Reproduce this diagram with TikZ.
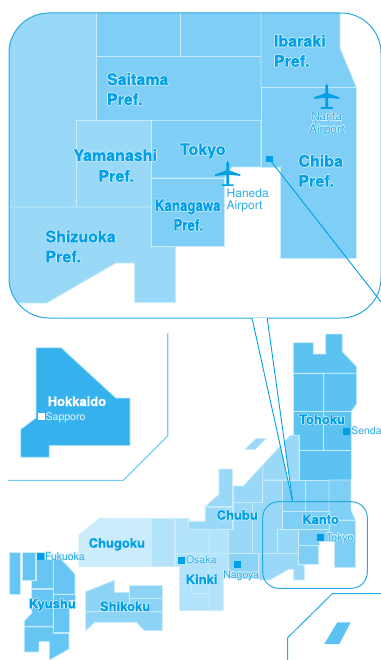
\documentclass[tikz,border=0pt]{standalone}
\usepackage{fontspec}
\usepackage{graphicx}
\usepackage{contour}
\setmainfont[BoldFeatures={FakeBold=0.6}]{TeX Gyre Heros}
\contourlength{0.5pt}
\contournumber{12}
\definecolor{cKanto}{HTML}{7FCEF5}
\definecolor{cChubu}{HTML}{99D8F7}
\definecolor{cTohoku}{HTML}{5BC2F2}
\definecolor{cKyushu}{HTML}{66C5F3}
\definecolor{cShikoku}{HTML}{8DD3F6}
\definecolor{cKinki}{HTML}{B3E3FA}
\definecolor{cChugoku}{HTML}{CCECFC}
\definecolor{cHokkaido}{HTML}{35B2EE}
\definecolor{cEdge}{HTML}{C8ECFB}
\definecolor{cHalo}{HTML}{D6F1FD}
\definecolor{cFrame}{HTML}{29ABE2}
\definecolor{cLine}{HTML}{6DCFF6}
\definecolor{cText}{HTML}{009FE8}
\definecolor{cSmall}{HTML}{29ABE2}
\definecolor{cMark}{HTML}{00A0E9}
\newcommand{\bl}[1]{\contour{cHalo}{#1}}
\tikzset{
  x=1pt,y=-1pt,
  cell/.style={fill=#1,draw=cEdge,line width=0.8pt,line join=miter},
  big/.style={anchor=base west,inner sep=0,outer sep=0,text=cText,font=\bfseries\fontsize{16}{16}\selectfont},
  mid/.style={anchor=base west,inner sep=0,outer sep=0,text=cText,font=\bfseries\fontsize{13}{13}\selectfont},
  small/.style={anchor=base west,inner sep=0,outer sep=0,text=cSmall,font=\fontsize{10.5}{10.5}\selectfont},
  air/.style={anchor=base west,inner sep=0,outer sep=0,text=cSmall,font=\fontsize{12}{12}\selectfont},
  frameline/.style={draw=cFrame,line width=1pt},
  bluelink/.style={draw=cMark,line width=0.9pt},
  boxline/.style={draw=cLine,line width=1.1pt},
  marker/.style={fill=cMark},
  plane/.pic={\fill[cMark] (0,-12.7) .. controls (0.8,-12) and (1.3,-11) .. (1.3,-10) -- (1.3,-3) -- (12.7,1.2) -- (12.7,2.6) -- (1.3,1.5) -- (1.3,11) -- (5.8,11) -- (5.8,12.7) -- (-5.8,12.7) -- (-5.8,11) -- (-1.3,11) -- (-1.3,1.5) -- (-12.7,2.6) -- (-12.7,1.2) -- (-1.3,-3) -- (-1.3,-10) .. controls (-1.3,-11) and (-0.8,-12) .. (0,-12.7) -- cycle;}
}
\begin{document}
\begin{tikzpicture}
\useasboundingbox (0,0) rectangle (380,660);
% --- inset
\begin{scope}
\clip[rounded corners=40pt] (9,13) rectangle (381,318);
\path[cell=cChubu] (0,0) -- (96,0) -- (96,120.3) -- (76.5,120.3) -- (76.5,207) -- (0,207) -- cycle;
\path[cell=cChubu] (76.5,120.3) rectangle (151.5,207);
\path[cell=cChubu] (0,207) -- (151.5,207) -- (151.5,246) -- (175.5,246) -- (175.5,302.7) -- (134.7,302.7) -- (134.7,263) -- (116,263) -- (46.7,303) -- (0,303) -- cycle;
\path[cell=cKanto] (96,0) rectangle (180,56);
\path[cell=cKanto] (180,0) rectangle (261,56);
\path[cell=cKanto] (96,56) rectangle (261,120.3);
\path[cell=cKanto] (151.5,120.3) -- (261,120.3) -- (261,167) -- (232,167) -- (224.5,178) -- (151.5,178) -- cycle;
\path[cell=cKanto] (151.5,178) rectangle (224.5,246);
\path[cell=cKanto] (261,0) -- (340,0) -- (340,48) -- (356.5,87.7) -- (261,87.7) -- cycle;
\path[cell=cKanto] (261,87.7) -- (356.5,87.7) -- (356.5,258) -- (280,258) -- (280,167) -- (261,167) -- cycle;
\end{scope}
\draw[frameline,rounded corners=40pt] (9,13) rectangle (381,318);
\node[big] (saitama) at (107,85) {\bl{Saitama}};
\node[big] (saitamap) at (107,105) {\bl{Pref.}};
\node[big] (yamanashi) at (73.5,161) {\bl{Yamanashi}};
\node[big] (yamanaship) at (98.5,181.7) {\bl{Pref.}};
\node[big] (tokyoin) at (180,155) {\bl{Tokyo}};
\node[big] (ibaraki) at (274,46.7) {\bl{Ibaraki}};
\node[big] (ibarakip) at (274,66.7) {\bl{Pref.}};
\node[big] (chiba) at (298.5,166.7) {\bl{Chiba}};
\node[big] (chibap) at (298.5,186.7) {\bl{Pref.}};
\node[big] (kanagawa) at (155,211) {\scalebox{.83}[1]{\bl{Kanagawa}}};
\node[big] (kanagawap) at (173.5,230.7) {\scalebox{.83}[1]{\bl{Pref.}}};
\node[big] (shizuoka) at (45.5,242.3) {\bl{Shizuoka}};
\node[big] (shizuokap) at (45.5,262.3) {\bl{Pref.}};
\pic (naritaplane) at (326.7,96.2) {plane};
\pic (hanedaplane) at (227.7,173.3) {plane};
\node[air] (narita) at (311.5,120.7) {\scalebox{.95}[1]{\bl{Narita}}};
\node[air] (naritaa) at (309,133.3) {\bl{Airport}};
\node[air] (haneda) at (226.7,197.7) {Haneda};
\node[air] (hanedaa) at (226.7,209.7) {Airport};
\fill[marker] (266,155.7) rectangle (272.7,162.3);
\coordinate (insetmark) at (269.3,159);
\coordinate (offpage) at (381,301.8);
\draw[bluelink] (insetmark) -- (offpage);
% --- Hokkaido
\draw[boxline] (167.7,333.3) -- (167.7,436) -- (123.3,480.3) -- (8,480.3);
\path[cell=cHokkaido] (36,347.7) -- (61.3,347.7) -- (116,398) -- (130,398) -- (130,445.7) -- (49.3,445.7) -- (49.3,457.3) -- (20.7,457.3) -- (20.7,429.3) -- (36,417.7) -- cycle;
\node[mid,text=white] (hokkaido) at (47.7,406) {Hokkaido};
\node[small,text=white!90!cyan] (sapporo) at (45.7,420.7) {Sapporo};
\fill[white] (38.3,413.3) rectangle (44.7,420);
% --- Tohoku (zoom coordinates)
\begin{scope}[shift={(190,330)},x=.3333pt,y=-.3333pt]
\path[cell=cTohoku] (310,38) -- (370,38) -- (370,72) -- (407,72) -- (407,12) -- (457,12) -- (457,65) -- (500,110) -- (500,130) -- (310,130) -- cycle;
\path[cell=cTohoku] (310,130) rectangle (401,245);
\path[cell=cTohoku] (401,130) -- (500,130) -- (500,222) -- (483,245) -- (401,245) -- cycle;
\path[cell=cTohoku] (310,245) -- (401,245) -- (401,360) -- (328,360) -- (328,316) -- (310,316) -- cycle;
\path[cell=cTohoku] (401,245) rectangle (483,360);
\path[cell=cTohoku] (328,360) rectangle (483,450);
\path[fill=cChubu,draw=cEdge,line width=.6pt] (198,326) -- (228,326) -- (196,358) -- (165,358) -- cycle;
\end{scope}
% --- Chubu, Kinki (zoom coordinates)
\begin{scope}[shift={(160,460)},x=.3333pt,y=-.3333pt]
\path[cell=cChubu] (308,15) -- (390,-74) -- (417,-74) -- (417,60) -- (308,60) -- cycle;
\path[cell=cChubu] (177,27) -- (217,27) -- (217,140) -- (135,140) -- (177,103) -- cycle;
\path[cell=cChubu] (135,142) -- (217,142) -- (217,207) -- (85,207) -- (85,183) -- (135,183) -- cycle;
\path[cell=cChubu] (220,78) -- (250,78) -- (308,15) -- (308,128) -- (220,128) -- cycle;
\path[cell=cChubu] (220,128) -- (278,128) -- (278,280) -- (205,280) -- (205,207) -- (220,207) -- cycle;
\path[cell=cChubu] (278,128) -- (308,128) -- (308,60) -- (368,60) -- (368,207) -- (352,207) -- (352,280) -- (278,280) -- cycle;
\path[cell=cShikoku] (205,280) rectangle (295,355);
\path[cell=cKinki] (45,175) -- (85,175) -- (85,207) -- (147,207) -- (147,280) -- (45,280) -- cycle;
\path[cell=cKinki] (147,207) rectangle (205,280);
\path[cell=cKinki] (45,280) -- (147,280) -- (147,400) -- (95,400) -- (95,365) -- (58,365) -- (58,320) -- (45,320) -- cycle;
\path[cell=cKinki] (58,365) -- (95,365) -- (95,400) -- (147,400) -- (147,452) -- (58,452) -- cycle;
\path[cell=cKinki] (147,280) -- (205,280) -- (205,340) -- (190,360) -- (190,452) -- (147,452) -- cycle;
\end{scope}
% --- Kanto (zoom coordinates)
\begin{scope}[shift={(255,460)},x=.3333pt,y=-.3333pt]
\path[cell=cChubu] (12,281) -- (130,281) -- (130,315) -- (148,315) -- (148,360) -- (116,360) -- (116,328) -- (100,328) -- (45,360) -- (12,360) -- cycle;
\path[cell=cChubu] (67,208) rectangle (130,280);
\path[cell=cKanto] (83,60) rectangle (152,154);
\path[cell=cKanto] (152,60) rectangle (222,154);
\path[cell=cKanto] (222,60) -- (288,60) -- (288,150) -- (301,180) -- (222,180) -- cycle;
\path[cell=cKanto] (83,154) -- (222,154) -- (222,207) -- (83,207) -- cycle;
\path[cell=cKanto] (222,180) -- (301,180) -- (301,322) -- (238,322) -- (238,245) -- (222,245) -- cycle;
\path[cell=cKanto] (130,207) -- (222,207) -- (222,245) -- (192,245) -- (192,257) -- (130,257) -- cycle;
\path[cell=cKanto] (130,257) rectangle (190,313);
\end{scope}
% --- Chugoku, Kyushu, Shikoku (zoom coordinates)
\begin{scope}[shift={(0,495)},x=.3333pt,y=-.3333pt]
\path[cell=cChugoku] (237,120) -- (300,70) -- (300,215) -- (237,215) -- cycle;
\path[cell=cChugoku] (300,70) rectangle (380,215);
\path[cell=cChugoku] (380,70) rectangle (453,215);
\path[cell=cKinki] (453,70) rectangle (523,215);
\path[cell=cKyushu] (27,172) rectangle (62,298);
\path[cell=cKyushu] (66,172) rectangle (106,256);
\path[cell=cKyushu] (108,172) -- (135,172) -- (135,192) -- (160,192) -- (160,281) -- (95,281) -- (95,256) -- (108,256) -- cycle;
\path[cell=cKyushu] (160,192) -- (183,192) -- (225,237) -- (225,298) -- (160,298) -- cycle;
\path[cell=cKyushu] (95,283) -- (160,283) -- (160,394) -- (73,394) -- (73,378) -- (95,355) -- cycle;
\path[cell=cKyushu] (160,298) -- (225,298) -- (225,315) -- (207,315) -- (207,413) -- (160,413) -- cycle;
\path[cell=cKyushu] (73,396) -- (160,396) -- (160,415) -- (207,415) -- (207,462) -- (148,496) -- (148,440) -- (117,440) -- (117,471) -- (73,471) -- cycle;
\path[cell=cShikoku] (257,290) -- (343,256) -- (343,292) -- (388,292) -- (388,350) -- (257,350) -- cycle;
\path[cell=cShikoku] (388,272) rectangle (487,311);
\path[cell=cShikoku] (388,311) rectangle (487,350);
\path[cell=cShikoku] (257,350) -- (487,350) -- (487,407) -- (433,407) -- (410,382) -- (285,382) -- (257,407) -- cycle;
\end{scope}
% --- links and frames
\coordinate (insetl) at (252,318);
\coordinate (insetr) at (267.2,318);
\coordinate (kantotop) at (292.7,502);
\fill[white] (insetl) -- (insetr) -- (kantotop) -- cycle;
\draw[bluelink] (insetl) -- (kantotop);
\draw[bluelink] (insetr) -- (kantotop);
\draw[frameline,rounded corners=16pt] (262.7,501.7) rectangle (367.3,588.3);
\draw[frameline] (381,593.7) -- (332.3,593.7) -- (287.7,637.7) -- (287.7,661);
\path[fill=cTohoku] (337.3,622.3) -- (350.7,622.3) -- (339.3,644) -- (324.3,644) -- cycle;
% --- map labels
\node[mid] (tohoku) at (299,424) {\bl{Tohoku}};
\node[mid] (kanto) at (302.3,524) {\bl{Kanto}};
\node[mid] (chubu) at (216.7,519.7) {\bl{Chubu}};
\node[mid] (kinki) at (185.7,584) {\bl{Kinki}};
\node[mid] (chugoku) at (88.7,547.7) {\bl{Chugoku}};
\node[mid] (shikoku) at (100,611) {\bl{Shikoku}};
\node[mid] (kyushu) at (29,608.3) {\bl{Kyushu}};
\fill[marker] (343.3,428.3) rectangle (350,435);
\node[small] (sendai) at (351.3,434.7) {Sendai};
\fill[marker] (36.7,553.3) rectangle (44,560);
\node[small] (fukuoka) at (45,560) {\bl{Fukuoka}};
\fill[marker] (177.7,556.7) rectangle (185,563.7);
\node[small] (osaka) at (186,563.3) {\bl{Osaka}};
\fill[marker] (234,561) rectangle (241,568.3);
\node[small] (nagoya) at (223.3,578.3) {\bl{Nagoya}};
\fill[marker] (317.3,534) rectangle (324.3,541);
\node[small] (tokyo) at (326,541) {\bl{Tokyo}};
\end{tikzpicture}
\end{document}
